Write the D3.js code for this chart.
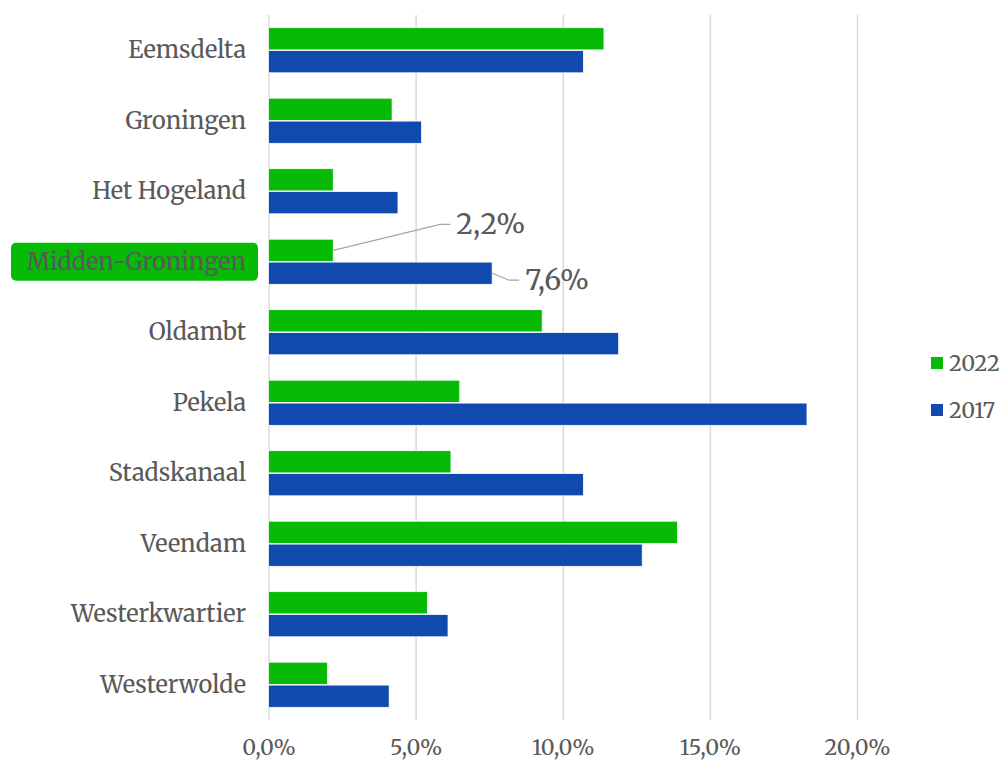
<!DOCTYPE html>
<html>
<head>
<meta charset="utf-8">
<script src="https://cdn.jsdelivr.net/npm/d3@7"></script>
<style>
  body { margin: 0; background: #fff; }
  text { font-family: Merriweather, "DejaVu Serif", serif; fill: #595959; }
</style>
</head>
<body>
<div id="chart"></div>
<script>
// chart data
const gemeenten = ['Eemsdelta', 'Groningen', 'Het Hogeland', 'Midden-Groningen', 'Oldambt',
    'Pekela', 'Stadskanaal', 'Veendam', 'Westerkwartier', 'Westerwolde'];
const series = ['2022', '2017'];
const values2022 = [11.4, 4.2, 2.2, 2.2, 9.3, 6.5, 6.2, 13.9, 5.4, 2.0];
const values2017 = [10.7, 5.2, 4.4, 7.6, 11.9, 18.3, 10.7, 12.7, 6.1, 4.1];
const xTicks = [0, 5, 10, 15, 20];
const highlighted = 'Midden-Groningen';

const colors = { '2022': '#06ba06', '2017': '#104aae' };

const width = 1007, height = 763;
const plot = { left: 268.5, right: 857, top: 15, bottom: 720 };

const svg = d3.select('#chart').append('svg')
    .attr('width', width)
    .attr('height', height);

const x = d3.scaleLinear().domain([0, 20]).range([plot.left, plot.right]);
const y = d3.scaleBand().domain(gemeenten).range([plot.top, plot.bottom])
    .paddingInner(0.36).paddingOuter(0.18);
const ySub = d3.scaleBand().domain(series).range([0, y.bandwidth()]).paddingInner(0.03);

const fmt = v => d3.format('.1f')(v).replace('.', ',') + '%';

// gridlines
svg.append('g')
    .attr('class', 'grid')
    .attr('transform', `translate(0,${plot.bottom})`)
    .call(d3.axisBottom(x).tickValues(xTicks).tickSize(-(plot.bottom - plot.top)).tickFormat(''))
    .call(g => g.select('.domain').remove())
    .call(g => g.selectAll('line').attr('stroke', '#d9d9d9').attr('stroke-width', 1.5));

// x axis labels
svg.append('g')
    .attr('transform', `translate(0,${plot.bottom})`)
    .call(d3.axisBottom(x).tickValues(xTicks).tickSize(0).tickPadding(20).tickFormat(fmt))
    .call(g => g.select('.domain').remove())
    .call(g => g.attr('font-family', null).attr('font-size', null))
    .call(g => g.selectAll('text').attr('font-size', 21.5).attr('fill', '#595959'));

// bars
const rows = gemeenten.map((name, i) => ({
    name,
    bars: [{ key: '2022', value: values2022[i] }, { key: '2017', value: values2017[i] }]
}));

const group = svg.append('g').selectAll('g')
    .data(rows)
    .enter()
    .append('g')
    .attr('transform', d => `translate(0,${y(d.name)})`);

group.selectAll('rect')
    .data(d => d.bars)
    .enter()
    .append('rect')
    .attr('x', x(0))
    .attr('y', d => ySub(d.key))
    .attr('width', d => x(d.value) - x(0))
    .attr('height', ySub.bandwidth())
    .attr('fill', d => colors[d.key])
    .attr('stroke', '#ffffff')
    .attr('stroke-width', 0.75);

// highlight box behind one category
const hy = y(highlighted) + y.bandwidth() / 2;
svg.append('rect')
    .attr('x', 11)
    .attr('y', hy - 19)
    .attr('width', 247)
    .attr('height', 38)
    .attr('rx', 5)
    .attr('fill', '#06ba06');

// category labels
svg.append('g').selectAll('text')
    .data(gemeenten)
    .enter()
    .append('text')
    .attr('x', 246)
    .attr('y', d => y(d) + y.bandwidth() / 2)
    .attr('dy', '0.35em')
    .attr('text-anchor', 'end')
    .attr('font-size', 23.5)
    .text(d => d);

// callouts for highlighted category
const hi = gemeenten.indexOf(highlighted);
const callouts = [
    { key: '2022', value: values2022[hi], dx: 107, dy: -26, tail: 10 },
    { key: '2017', value: values2017[hi], dx: 17, dy: 7, tail: 10 }
];
callouts.forEach(c => {
    const x0 = x(c.value);
    const y0 = y(highlighted) + ySub(c.key) + ySub.bandwidth() / 2;
    const x1 = x0 + c.dx, y1 = y0 + c.dy;
    svg.append('polyline')
        .attr('points', `${x0},${y0} ${x1},${y1} ${x1 + c.tail},${y1}`)
        .attr('fill', 'none')
        .attr('stroke', '#a6a6a6')
        .attr('stroke-width', 1.2);
    svg.append('text')
        .attr('x', x1 + c.tail + 6)
        .attr('y', y1)
        .attr('dy', '0.35em')
        .attr('font-size', 28)
        .text(fmt(c.value));
});

// legend
const legend = svg.append('g').selectAll('g')
    .data(series)
    .enter()
    .append('g')
    .attr('transform', (d, i) => `translate(931,${363 + i * 47})`);
legend.append('rect')
    .attr('x', 0).attr('y', -6)
    .attr('width', 12).attr('height', 12)
    .attr('fill', d => colors[d]);
legend.append('text')
    .attr('x', 18)
    .attr('dy', '0.35em')
    .attr('font-size', 21.5)
    .text(d => d);
</script>
</body>
</html>
